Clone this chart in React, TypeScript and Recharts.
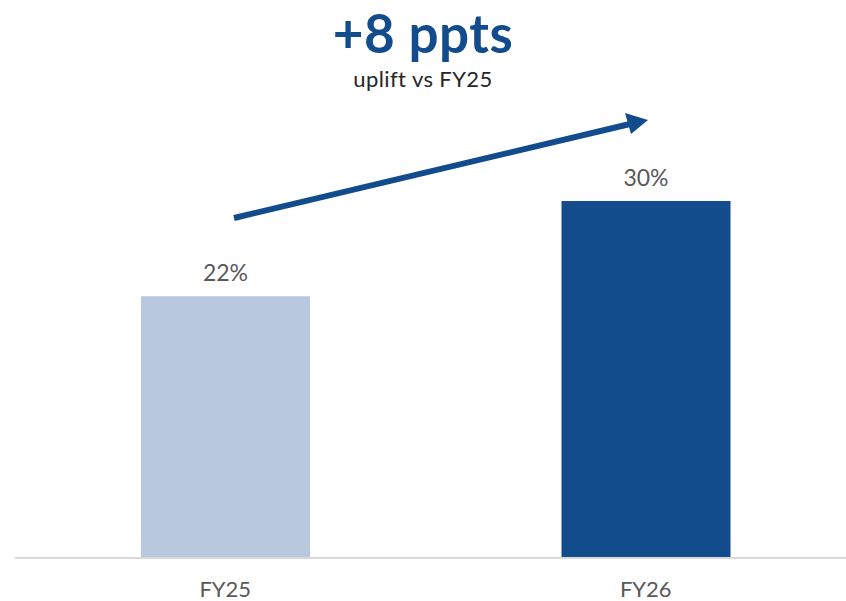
import { Bar, BarChart, Cell, LabelList, XAxis, YAxis } from 'recharts'

const years = ['FY25', 'FY26']
const shares = [22, 30]
const barColors = ['#B8C9DF', '#124C8C']
const headline = '+8 ppts'
const subline = 'uplift vs FY25'

const data = years.map((year, i) => ({ year, share: shares[i] }))

const FONT = '"Century Gothic", Lato, "Open Sans", sans-serif'

export default function App() {
  return (
    <div
      style={{
        position: 'absolute',
        left: 0,
        top: 0,
        width: 846,
        height: 601,
        overflow: 'hidden',
        background: '#fff',
        fontFamily: FONT,
      }}
    >
      <div
        style={{
          position: 'absolute',
          left: 0,
          width: 846,
          top: 5,
          textAlign: 'center',
          color: '#124C8C',
          fontWeight: 700,
          fontSize: 53,
          lineHeight: '56px',
          letterSpacing: 0.5,
        }}
      >
        {headline}
      </div>
      <div
        style={{
          position: 'absolute',
          left: 0,
          width: 846,
          top: 66,
          textAlign: 'center',
          color: '#262626',
          fontWeight: 400,
          fontSize: 22,
          lineHeight: '26px',
          letterSpacing: 0.4,
        }}
      >
        {subline}
      </div>

      <BarChart
        width={870}
        height={601}
        data={data}
        margin={{ top: 201, right: 14, bottom: 13, left: 15 }}
      >
        <XAxis
          dataKey="year"
          axisLine={{ stroke: '#D9D9D9', strokeWidth: 2 }}
          tickLine={false}
          tick={{ fill: '#595959', fontSize: 22, fontFamily: FONT }}
          tickMargin={17}
        />
        <YAxis hide domain={[0, 30]} />
        <Bar dataKey="share" barSize={169} isAnimationActive={false}>
          {data.map((d, i) => (
            <Cell key={d.year} fill={barColors[i]} />
          ))}
          <LabelList
            dataKey="share"
            position="top"
            offset={15}
            formatter={(v: number) => `${v}%`}
            style={{ fill: '#595959', fontSize: 23, fontFamily: FONT }}
          />
        </Bar>
      </BarChart>

      <svg
        width={846}
        height={601}
        style={{ position: 'absolute', left: 0, top: 0, pointerEvents: 'none' }}
      >
        <line x1={234} y1={218} x2={630} y2={124} stroke="#124C8C" strokeWidth={6} />
        <polygon points="648,120 625,113 631,134" fill="#124C8C" />
      </svg>
    </div>
  )
}
